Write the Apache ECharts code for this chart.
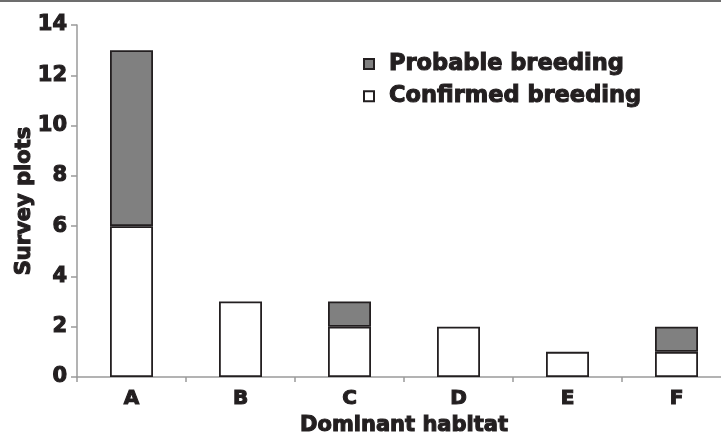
<!DOCTYPE html>
<html>
<head>
<meta charset="utf-8">
<script src="https://cdn.jsdelivr.net/npm/echarts@6/dist/echarts.min.js"></script>
<style>
  html, body { margin: 0; padding: 0; background: #fff; }
  #chart { width: 721px; height: 437px; }
</style>
</head>
<body>
<div id="chart"></div>
<script>
// data
const habitats = ['A', 'B', 'C', 'D', 'E', 'F']
const confirmed = [6, 3, 2, 2, 1, 1]
const probable = [7, 0, 1, 0, 0, 1]
const yTicks = [0, 2, 4, 6, 8, 10, 12, 14]

const ink = '#231f20'
const font = 'DejaVu Sans'

// heavy bold look: stroke the glyphs in their own colour
const heavy = (size) => ({
    fontFamily: font,
    fontSize: size,
    fontWeight: 'bold',
    color: ink,
    textBorderColor: ink,
    textBorderWidth: 1.1
})

// zero height segments are not drawn
const noZero = (arr) => arr.map((v) => (v === 0 ? null : v))

var chart = echarts.init(document.getElementById('chart'))
option = {
    animation: false,
    textStyle: { fontFamily: font },
    graphic: [
        {
            type: 'rect',
            shape: { x: 0, y: 0, width: 721, height: 2 },
            style: { fill: '#6d6d6d' }
        }
    ],
    legend: {
        orient: 'vertical',
        left: 358,
        top: 47,
        itemWidth: 10,
        itemHeight: 10,
        itemGap: 8,
        icon: 'rect',
        data: ['Probable breeding', 'Confirmed breeding'],
        textStyle: Object.assign(heavy(22.5), { padding: [0, 0, 0, 10] })
    },
    grid: {
        left: 77,
        top: 25,
        width: 654,
        height: 352,
        outerBoundsMode: 'none',
        containLabel: false
    },
    xAxis: {
        type: 'category',
        data: habitats,
        name: 'Dominant habitat',
        nameLocation: 'middle',
        nameGap: 38,
        nameMoveOverlap: false,
        nameTextStyle: heavy(21),
        axisLine: { lineStyle: { color: '#9a9a9a', width: 1.5 } },
        axisTick: { show: true, length: 5, lineStyle: { color: '#9a9a9a', width: 1.5 } },
        axisLabel: Object.assign(heavy(20), { margin: 12 })
    },
    yAxis: {
        type: 'value',
        min: yTicks[0],
        max: yTicks[yTicks.length - 1],
        interval: yTicks[1] - yTicks[0],
        name: 'Survey plots',
        nameLocation: 'middle',
        nameGap: 42,
        nameMoveOverlap: false,
        nameTextStyle: heavy(21),
        splitLine: { show: false },
        axisLine: { show: true, lineStyle: { color: '#9a9a9a', width: 1.5 } },
        axisTick: { show: true, length: 6, lineStyle: { color: '#9a9a9a', width: 1.5 } },
        axisLabel: Object.assign(heavy(21), { margin: 10 })
    },
    series: [
        {
            name: 'Confirmed breeding',
            type: 'bar',
            stack: 'plots',
            barWidth: 43,
            data: noZero(confirmed),
            itemStyle: { color: '#ffffff', borderColor: ink, borderWidth: 1.8 }
        },
        {
            name: 'Probable breeding',
            type: 'bar',
            stack: 'plots',
            barWidth: 43,
            data: noZero(probable),
            itemStyle: { color: '#808080', borderColor: ink, borderWidth: 1.8 }
        }
    ]
}
chart.setOption(option)
</script>
</body>
</html>
